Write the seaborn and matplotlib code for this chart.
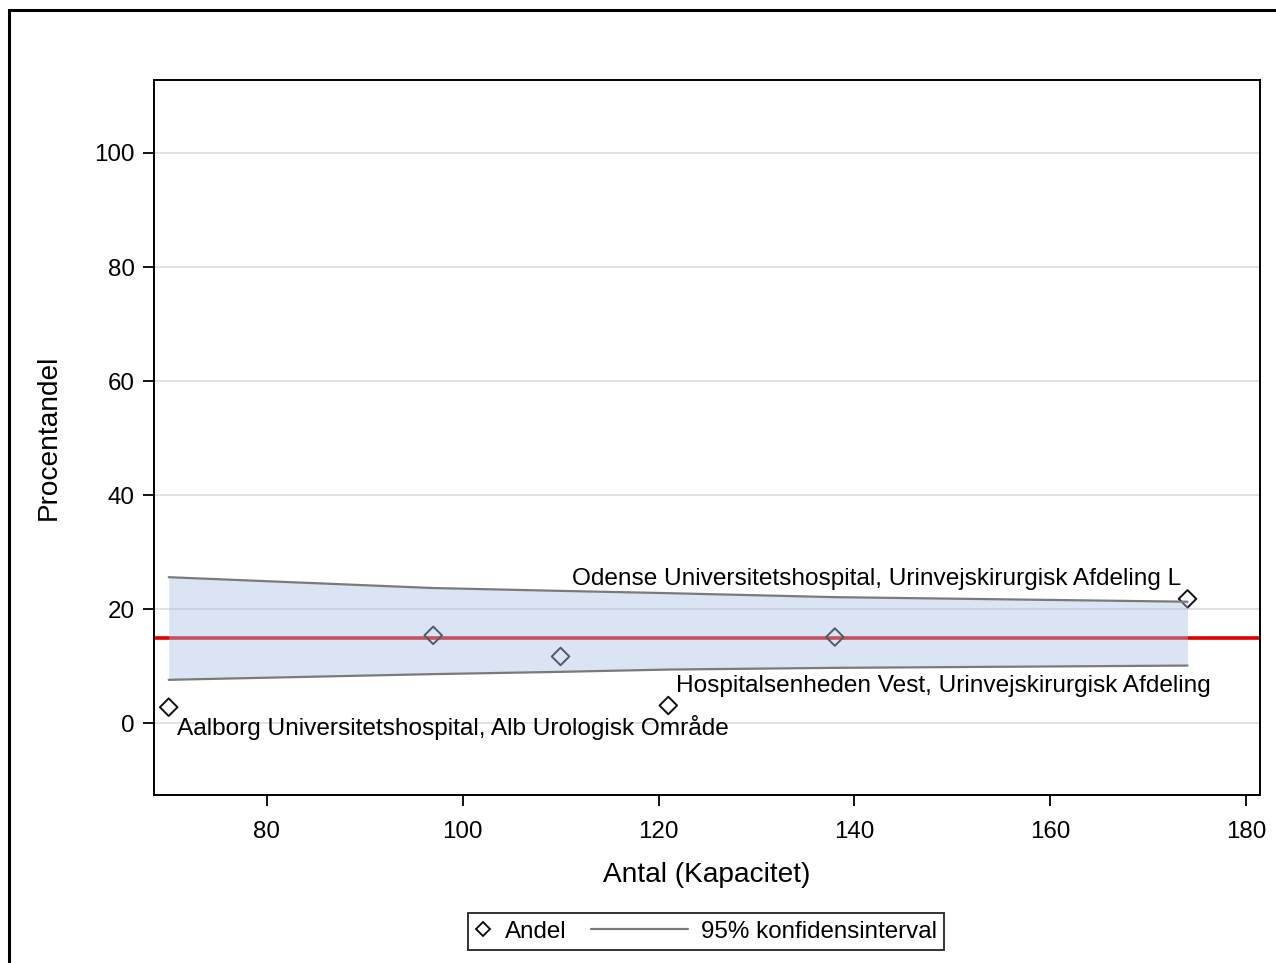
import numpy as np
import pandas as pd
import seaborn as sns
import matplotlib.pyplot as plt
from matplotlib.lines import Line2D
from matplotlib.patches import Rectangle
from matplotlib.legend_handler import HandlerLine2D

# hospital points
antal = [70, 97, 110, 121, 138, 174]
andel = [2.8, 15.4, 11.7, 3.1, 15.1, 21.8]

# confidence band around the overall share
ci_x = [70, 97, 110, 121, 138, 174]
ci_upper = [25.6, 23.7, 23.2, 22.8, 22.1, 21.3]
ci_lower = [7.6, 8.6, 9.0, 9.4, 9.7, 10.1]
overall = 14.9

# labelled outliers
labels = ["Aalborg Universitetshospital, Alb Urologisk Område",
          "Hospitalsenheden Vest, Urinvejskirurgisk Afdeling",
          "Odense Universitetshospital, Urinvejskirurgisk Afdeling L"]
label_x = [70.8, 121.8, 173.3]
label_y = [-0.7, 6.5, 25.3]
label_ha = ["left", "left", "right"]

x_ticks = [80, 100, 120, 140, 160, 180]
y_ticks = [0, 20, 40, 60, 80, 100]

sns.set_style("white")
plt.rcParams['font.family'] = ['Liberation Sans', 'DejaVu Sans']
plt.rcParams['text.color'] = 'black'
plt.rcParams['axes.labelcolor'] = 'black'
plt.rcParams['xtick.color'] = 'black'
plt.rcParams['ytick.color'] = 'black'

points = pd.DataFrame({"antal": antal, "andel": andel})
band = pd.DataFrame({"x": ci_x, "upper": ci_upper, "lower": ci_lower})

fig = plt.figure(figsize=(12.76, 9.63), dpi=100)
ax = fig.add_axes([154 / 1276, 1 - 795 / 963, 1106 / 1276, 715 / 963])

for yt in y_ticks:
    ax.axhline(yt, color="#dedede", lw=1.3, zorder=0)

ax.axhline(overall, color="#e00000", lw=2.6, zorder=1)

sns.scatterplot(data=points, x="antal", y="andel", marker="D", s=80,
                facecolors="none", edgecolors="#111111", linewidth=1.4,
                zorder=2, ax=ax, legend=False)

ax.fill_between(band["x"], band["lower"], band["upper"], color="#a7c0e1",
                alpha=0.42, lw=0, zorder=3)
sns.lineplot(data=band, x="x", y="upper", color="#7a7a7a", lw=1.6, zorder=4, ax=ax)
sns.lineplot(data=band, x="x", y="lower", color="#7a7a7a", lw=1.6, zorder=4, ax=ax)

for txt, lx, ly, ha in zip(labels, label_x, label_y, label_ha):
    ax.text(lx, ly, txt, ha=ha, va="center", fontsize=17.6, color="black", zorder=5)

ax.set_xlim(68.5, 181.4)
ax.set_ylim(-12.6, 112.8)
ax.set_xticks(x_ticks)
ax.set_yticks(y_ticks)
ax.tick_params(axis="both", which="major", labelsize=17.4, length=8, width=1.3,
               color="black", labelcolor="black", direction="out",
               bottom=True, left=True)
ax.tick_params(axis="x", pad=11)
ax.tick_params(axis="y", pad=6)
for sp in ax.spines.values():
    sp.set_color("black")
    sp.set_linewidth(1.4)

ax.set_xlabel("Antal (Kapacitet)", fontsize=20.2)
ax.set_ylabel("Procentandel", fontsize=20.2)
ax.xaxis.set_label_coords(0.5, -0.094)
ax.yaxis.set_label_coords(-0.083, 0.5)


class LongLine(HandlerLine2D):
    # stretch the line handle leftwards into the column gap
    def create_artists(self, legend, orig_handle, xdescent, ydescent,
                       width, height, fontsize, trans):
        extra = 3.3 * fontsize
        return super().create_artists(legend, orig_handle, xdescent + extra,
                                      ydescent, width + extra, height,
                                      fontsize, trans)


h_andel = Line2D([], [], marker="D", ls="none", mfc="none", mec="black",
                 ms=7.5, mew=1.3)
h_ci = Line2D([], [], color="#7a7a7a", lw=1.6)
leg = fig.legend([h_andel, h_ci], ["Andel", "95% konfidensinterval"],
                 loc="center", bbox_to_anchor=(706 / 1276, 1 - 931.5 / 963),
                 ncol=2, fontsize=17.4, handlelength=0.7, handletextpad=0.55,
                 columnspacing=4.3, borderpad=0.3, borderaxespad=0,
                 fancybox=False, frameon=True, edgecolor="black",
                 handler_map={h_ci: LongLine()})
leg.get_frame().set_linewidth(1.4)

fig.patches.append(Rectangle((9 / 1276, -0.1), 1.2, 1 - 10 / 963 + 0.1,
                             transform=fig.transFigure, fill=False,
                             lw=2.2, ec="black"))

plt.savefig("out.png", dpi=100)
